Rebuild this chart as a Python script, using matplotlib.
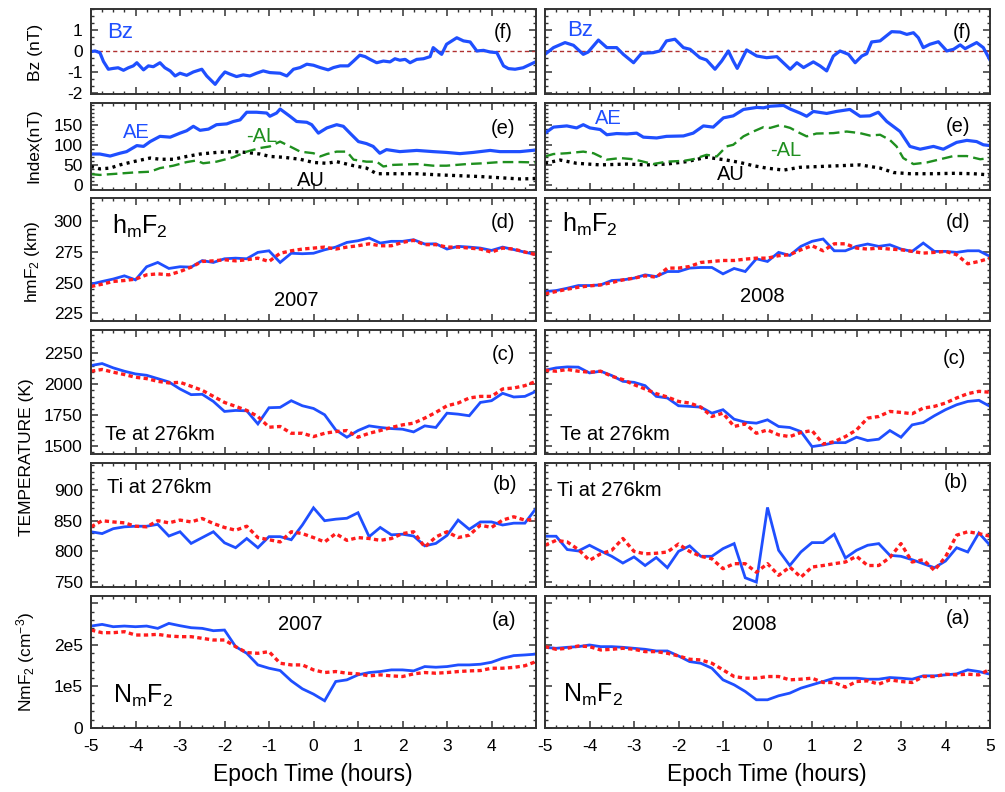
import numpy as np
import matplotlib
matplotlib.use('Agg')
import matplotlib.pyplot as plt
from matplotlib.ticker import MultipleLocator

plt.rcParams['font.family'] = ['Liberation Sans', 'DejaVu Sans']
plt.rcParams['mathtext.fontset'] = 'custom'
plt.rcParams['mathtext.rm'] = 'Liberation Sans'
plt.rcParams['mathtext.it'] = 'Liberation Sans:italic'
plt.rcParams['mathtext.bf'] = 'Liberation Sans:bold'

# ---- data -------------------------------------------------------------
# 15-min epoch grid for the ionospheric parameters
t = np.arange(-5, 5.001, 0.25)

hm07_obs = [248.8, 251, 253, 255.6, 252.3, 263, 266.5, 261.6, 263, 262.7, 268, 266.5, 269.5, 270,
            269.5, 274.7, 276, 266.5, 274, 273.6, 274, 276.8, 279, 282.8, 284.2, 286.4, 282.3, 283.7,
            283.7, 285, 281.5, 281.7, 277.4, 279.6, 279, 278.2, 276.3, 279, 277, 274.9, 272.8]
hm07_mod = [246.9, 248.8, 251, 251.8, 252.9, 256.4, 257.2, 256.4, 259.1, 262.7, 267.3, 267.8, 268.7,
            267.8, 268.7, 270, 267.3, 274, 276, 277.4, 278.2, 279, 277.4, 279, 280.1, 281.7, 280.1,
            280.1, 282.8, 284.5, 281, 281, 279, 279, 278.2, 277.4, 274.9, 278.2, 277.4, 275, 272.8]
hm08_obs = [242.8, 243.6, 245.5, 247.7, 247.7, 248.2, 251.8, 252.3, 253.7, 256.4, 255, 259.1, 259.1,
            261.9, 262.4, 262.4, 257.2, 261.6, 259.1, 269.5, 267.3, 274.7, 272.2, 279.6, 283.7, 285.6,
            276, 276, 279.6, 281.5, 279.6, 280.9, 277.4, 275.5, 282.3, 275.5, 275.5, 274.7, 276, 276, 271.4]
hm08_mod = [240.9, 242.8, 244.7, 246.3, 247.4, 248.2, 250.1, 252.3, 253.7, 255.6, 254.5, 261.9, 261.9,
            263.2, 266.5, 267.3, 268.1, 268.1, 269.2, 270, 270, 272, 272.8, 276.8, 280.1, 276, 281.7,
            281.7, 278.2, 277.4, 278.2, 277.4, 276.8, 275.5, 274.1, 274.7, 275.5, 272.8, 265.4, 267.3, 270]

te07_obs = [2152, 2168, 2133, 2106, 2084, 2073, 2046, 2019, 1962, 1916, 1919, 1861, 1780, 1788, 1785,
            1679, 1810, 1813, 1867, 1826, 1804, 1753, 1630, 1571, 1625, 1663, 1650, 1641, 1636, 1614,
            1663, 1650, 1766, 1758, 1745, 1853, 1867, 1927, 1897, 1902, 1943]
te07_mod = [2106, 2120, 2098, 2079, 2057, 2046, 2024, 2011, 2016, 1984, 1951, 1902, 1853, 1821, 1788,
            1739, 1652, 1658, 1603, 1603, 1576, 1603, 1617, 1625, 1571, 1603, 1625, 1650, 1671, 1685,
            1726, 1772, 1826, 1848, 1889, 1902, 1902, 1962, 1970, 1989, 2024]
te08_obs = [2114, 2133, 2141, 2139, 2092, 2106, 2071, 2024, 2016, 1989, 1902, 1889, 1826, 1821, 1815,
            1766, 1794, 1717, 1693, 1685, 1712, 1658, 1650, 1617, 1495, 1508, 1527, 1527, 1571, 1544,
            1555, 1625, 1571, 1671, 1690, 1745, 1794, 1834, 1861, 1870, 1821]
te08_mod = [2114, 2106, 2120, 2106, 2098, 2106, 2065, 2038, 1997, 1962, 1924, 1897, 1861, 1848, 1815,
            1739, 1766, 1658, 1679, 1603, 1630, 1590, 1576, 1609, 1625, 1516, 1535, 1576, 1630, 1726,
            1739, 1780, 1772, 1761, 1807, 1821, 1848, 1889, 1924, 1943, 1935]

ti07_obs = [832, 829, 837, 840, 841, 841, 844, 825, 832, 813, 822.5, 832, 814, 806, 821, 806, 824, 824,
            819, 843, 871, 850, 852.5, 854, 863, 824, 839, 827, 828, 825, 809, 813, 826, 851, 836, 848,
            848, 843, 846, 846, 870]
ti07_mod = [840, 850, 848, 846.5, 841, 840, 850, 846.5, 851, 848, 853.6, 845.4, 839, 834.5, 841, 822.5,
            819, 815.4, 832, 829, 822.5, 815.4, 829, 818, 822.5, 821, 818, 821, 829, 832, 807, 823.6, 832,
            822.5, 826.4, 842.7, 839, 851, 856.4, 851, 852]
ti08_obs = [824.7, 824.7, 803, 800.7, 810, 800.7, 792, 781, 791, 777, 790, 773.4, 800, 809, 792, 792,
            804.5, 812.7, 757, 750, 871.6, 801.8, 777, 799, 814.3, 814.3, 828, 789.3, 801.8, 810, 812.7,
            793.6, 792, 786.5, 780, 773.4, 784.3, 806, 799, 830, 810]
ti08_mod = [810, 818, 815.4, 803, 785.4, 796, 801.8, 821, 800, 796, 797, 799, 812, 800, 792, 788, 771.8,
            780, 780, 766, 780, 761, 774.5, 758, 774.5, 777, 780, 782.7, 792, 777, 777, 790, 812.7, 782.7,
            786.5, 769, 791, 826.4, 832, 829, 824.7]

# NmF2 in units of 1e5 cm^-3
nm07_obs = [2.456, 2.496, 2.44, 2.456, 2.44, 2.456, 2.40, 2.52, 2.464, 2.416, 2.40, 2.344, 2.36, 1.96,
            1.80, 1.52, 1.44, 1.384, 1.136, 0.944, 0.816, 0.656, 1.12, 1.16, 1.28, 1.336, 1.36, 1.40,
            1.40, 1.376, 1.48, 1.464, 1.48, 1.52, 1.52, 1.536, 1.584, 1.68, 1.744, 1.76, 1.78]
nm07_mod = [2.36, 2.296, 2.296, 2.32, 2.24, 2.24, 2.256, 2.216, 2.20, 2.20, 2.16, 2.12, 2.12, 1.96,
            1.816, 1.80, 1.84, 1.56, 1.52, 1.52, 1.40, 1.336, 1.36, 1.32, 1.304, 1.256, 1.28, 1.256,
            1.24, 1.304, 1.336, 1.32, 1.336, 1.36, 1.376, 1.384, 1.44, 1.44, 1.46, 1.5, 1.6]
nm08_obs = [1.944, 1.92, 1.944, 1.96, 2.0, 1.96, 1.96, 1.944, 1.92, 1.896, 1.856, 1.856, 1.736, 1.60,
            1.56, 1.44, 1.16, 1.04, 0.88, 0.68, 0.68, 0.776, 0.84, 0.96, 1.04, 1.12, 1.20, 1.20, 1.20,
            1.176, 1.176, 1.216, 1.20, 1.176, 1.256, 1.256, 1.28, 1.304, 1.40, 1.36, 1.296]
nm08_mod = [1.96, 1.896, 1.92, 1.976, 1.96, 1.88, 1.896, 1.92, 1.896, 1.84, 1.84, 1.80, 1.736, 1.656,
            1.64, 1.56, 1.40, 1.24, 1.20, 1.20, 1.24, 1.24, 1.16, 1.176, 1.20, 1.096, 1.096, 0.984, 1.12,
            1.136, 1.056, 1.16, 1.12, 1.096, 1.24, 1.24, 1.296, 1.28, 1.296, 1.28, 1.416]

# IMF Bz (nT)
bz07_t = [-5.0, -4.91, -4.80, -4.72, -4.61, -4.50, -4.39, -4.27, -4.16, -4.05, -3.97, -3.82, -3.71,
          -3.60, -3.45, -3.34, -3.22, -3.11, -3.0, -2.85, -2.70, -2.51, -2.40, -2.21, -2.10, -1.99,
          -1.88, -1.73, -1.58, -1.43, -1.28, -1.13, -0.98, -0.75, -0.60, -0.45, -0.30, -0.15, 0.0,
          0.15, 0.33, 0.45, 0.60, 0.78, 0.90, 1.04, 1.16, 1.27, 1.42, 1.57, 1.72, 1.83, 1.94, 2.06,
          2.17, 2.32, 2.47, 2.62, 2.69, 2.81, 2.88, 2.99, 3.22, 3.37, 3.52, 3.67, 3.82, 3.97, 4.12,
          4.27, 4.38, 4.53, 4.71, 4.99]
bz07 = [-0.03, 0, -0.08, -0.5, -0.87, -0.83, -0.8, -0.92, -0.8, -0.71, -0.56, -0.9, -0.71, -0.75,
        -0.56, -0.8, -0.95, -1.19, -1.06, -1.16, -1.0, -0.87, -1.19, -1.59, -1.27, -1.0, -1.1, -1.22,
        -1.14, -1.19, -1.06, -0.95, -1.03, -1.06, -1.19, -0.87, -0.79, -0.63, -0.68, -0.79, -0.9,
        -0.79, -0.71, -0.71, -0.48, -0.2, -0.27, -0.4, -0.56, -0.48, -0.52, -0.37, -0.44, -0.4, -0.56,
        -0.4, -0.37, -0.27, 0.16, -0.05, -0.16, 0.32, 0.63, 0.48, 0.43, 0.0, 0.03, -0.05, -0.08,
        -0.71, -0.84, -0.87, -0.8, -0.52]
bz08_t = [-5.0, -4.81, -4.55, -4.36, -4.14, -4.03, -3.80, -3.61, -3.39, -3.24, -3.01, -2.83, -2.57,
          -2.42, -2.27, -2.08, -1.89, -1.74, -1.52, -1.37, -1.18, -1.03, -0.88, -0.77, -0.68, -0.47,
          -0.24, -0.02, 0.21, 0.51, 0.66, 0.81, 1.03, 1.18, 1.33, 1.48, 1.63, 1.82, 1.97, 2.12, 2.23,
          2.34, 2.53, 2.79, 2.98, 3.13, 3.28, 3.39, 3.50, 3.65, 3.84, 4.03, 4.18, 4.33, 4.44, 4.70,
          4.85, 5.0]
bz08 = [-0.16, 0.16, 0.4, 0.27, -0.16, -0.05, 0.52, 0.16, 0.16, -0.16, -0.56, -0.11, -0.08, 0.0, 0.48,
        0.56, 0.16, 0.08, -0.32, -0.43, -0.87, -0.48, 0.0, -0.48, -0.83, 0.05, -0.24, -0.32, -0.27,
        -0.87, -0.56, -0.79, -0.52, -0.71, -0.95, -0.24, 0.0, -0.16, -0.56, -0.24, -0.13, 0.43, 0.48,
        0.92, 0.9, 0.79, 0.87, 0.63, 0.16, 0.32, 0.44, 0.0, 0.08, 0.29, 0.11, 0.4, 0.16, -0.43]

# auroral indices (nT)
ae07_t = [-5.0, -4.80, -4.57, -4.35, -4.20, -3.97, -3.82, -3.67, -3.45, -3.22, -3.0, -2.85, -2.70,
          -2.55, -2.36, -2.18, -1.95, -1.80, -1.65, -1.50, -1.28, -1.05, -0.98, -0.83, -0.75, -0.53,
          -0.38, -0.15, -0.04, 0.11, 0.30, 0.52, 0.67, 0.82, 1.01, 1.19, 1.34, 1.49, 1.64, 1.94, 2.32,
          2.69, 2.99, 3.29, 3.59, 3.97, 4.19, 4.42, 4.64, 5.0]
ae07 = [77, 77, 72, 79, 83, 98, 96, 108, 121, 119, 129, 135, 146, 136, 139, 150, 152, 158, 162, 181,
        181, 179, 171, 179, 189, 171, 158, 156, 150, 129, 142, 150, 146, 129, 108, 103, 96, 79, 88, 83,
        86, 83, 81, 78, 81, 86, 83, 83, 83, 87]
al07_t = [-5.0, -4.80, -4.42, -4.05, -3.67, -3.45, -3.15, -2.85, -2.63, -2.48, -2.18, -1.80, -1.50,
          -1.20, -0.98, -0.75, -0.53, -0.30, 0.0, 0.15, 0.30, 0.52, 0.75, 0.90, 1.19, 1.42, 1.57, 1.79,
          2.32, 2.69, 2.99, 3.44, 3.82, 4.19, 4.64, 5.0]
al07 = [27, 25, 28, 31, 33, 42, 48, 57, 61, 54, 58, 69, 83, 92, 96, 108, 96, 83, 79, 71, 77, 83, 83,
        63, 58, 58, 46, 50, 52, 48, 48, 52, 54, 57, 57, 56]
au07_t = [-5.0, -4.80, -4.57, -4.35, -4.05, -3.67, -3.45, -3.15, -2.85, -2.55, -2.18, -1.80, -1.50,
          -1.20, -0.98, -0.68, -0.30, 0.0, 0.30, 0.52, 0.75, 0.90, 1.19, 1.42, 1.79, 2.32, 2.84, 3.29,
          3.74, 4.19, 4.64, 5.0]
au07 = [46, 40, 42, 50, 58, 67, 64, 64, 71, 77, 81, 83, 81, 77, 71, 69, 64, 56, 54, 58, 52, 48, 42, 28,
        28, 28, 25, 23, 21, 18, 15, 16]

ae08_t = [-5.0, -4.81, -4.51, -4.29, -4.14, -3.99, -3.76, -3.61, -3.39, -3.16, -2.94, -2.79, -2.49,
          -2.27, -1.89, -1.67, -1.44, -1.22, -0.99, -0.77, -0.54, -0.24, -0.09, 0.06, 0.36, 0.51, 0.73,
          0.88, 1.03, 1.33, 1.55, 1.85, 2.08, 2.30, 2.49, 2.68, 2.98, 3.20, 3.43, 3.73, 3.95, 4.25,
          4.48, 4.70, 4.85, 5.0]
ae08 = [129, 144, 147, 142, 150, 142, 138, 125, 128, 127, 129, 119, 117, 121, 122, 129, 147, 144, 167,
        172, 188, 193, 192, 196, 198, 189, 179, 171, 183, 178, 183, 188, 171, 172, 181, 158, 133, 96,
        89, 96, 89, 106, 111, 108, 100, 98]
al08_t = [-5.0, -4.81, -4.51, -4.14, -3.91, -3.61, -3.31, -3.01, -2.79, -2.57, -2.27, -1.89, -1.67,
          -1.37, -1.14, -0.92, -0.77, -0.54, -0.32, -0.09, 0.06, 0.28, 0.51, 0.73, 0.88, 1.10, 1.48,
          1.78, 2.08, 2.30, 2.53, 2.75, 2.90, 3.05, 3.28, 3.58, 3.88, 4.18, 4.48, 4.78, 5.0]
al08 = [71, 77, 79, 83, 79, 63, 67, 64, 58, 52, 58, 60, 64, 75, 71, 96, 100, 121, 133, 144, 142, 149,
        142, 129, 121, 128, 129, 133, 129, 123, 125, 112, 96, 67, 52, 56, 64, 72, 72, 64, 67]
au08_t = [-5.0, -4.66, -4.29, -3.76, -3.16, -2.72, -2.27, -1.82, -1.37, -0.92, -0.62, -0.32, -0.02,
          0.36, 0.73, 1.18, 1.63, 2.08, 2.53, 2.83, 3.20, 3.73, 4.18, 4.63, 5.0]
au08 = [54, 62, 54, 50, 52, 50, 52, 58, 69, 62, 56, 48, 42, 37, 44, 46, 48, 50, 42, 31, 28, 28, 29,
        28, 25]

xticks = [-5, -4, -3, -2, -1, 0, 1, 2, 3, 4, 5]

# ---- styles -----------------------------------------------------------
BLUE = '#1f4fff'
RED = '#ff1c1c'
GREEN = '#1f8f1f'
obs_kw = dict(color=BLUE, lw=2.0, solid_joinstyle='miter')
mod_kw = dict(color=RED, lw=2.4, ls=(0, (1.3, 1.0)))

W, H = 1005, 792
fig = plt.figure(figsize=(W / 100, H / 100), dpi=100)

cols = [(91, 536), (545, 990)]
rows = [(9, 94), (103, 190), (198, 321), (330, 454), (463, 587), (596, 728)]

# ylim, ticks, tick labels, minor step for each row
yspec = [
    ((-2.05, 2.0), [-2, -1, 0, 1], ['-2', '-1', '0', '1'], 1 / 3),
    ((-12.5, 204), [0, 50, 100, 150], ['0', '50', '100', '150'], 10),
    ((218.8, 319), [225, 250, 275, 300], ['225', '250', '275', '300'], 5),
    ((1435, 2440), [1500, 1750, 2000, 2250], ['1500', '1750', '2000', '2250'], 50),
    ((742, 944), [750, 800, 850, 900], ['750', '800', '850', '900'], 10),
    ((0, 3.18), [0, 1, 2, 3], ['0', '1e5', '2e5', ''], 0.2),
]


def panel(c, r):
    x0, x1 = cols[c]
    y0, y1 = rows[r]
    ax = fig.add_axes([x0 / W, 1 - y1 / H, (x1 - x0) / W, (y1 - y0) / H])
    ylim, yt, ytl, ymin = yspec[r]
    ax.set_xlim(-5, 5)
    ax.set_ylim(*ylim)
    ax.set_xticks(xticks)
    ax.xaxis.set_minor_locator(MultipleLocator(0.25))
    ax.set_yticks(yt)
    ax.yaxis.set_minor_locator(MultipleLocator(ymin))
    ax.tick_params(which='both', direction='in', top=True, right=True,
                   color='#333333', labelsize=12.5)
    ax.tick_params(which='major', length=5, width=1.1)
    ax.tick_params(which='minor', length=2.5, width=1.0)
    ax.tick_params(axis='x', pad=8)
    ax.tick_params(axis='y', pad=6)
    for s in ax.spines.values():
        s.set_color('#333333')
        s.set_linewidth(1.4)
    if c == 0:
        ax.set_yticklabels(ytl)
    else:
        ax.set_yticklabels([])
    if r == 5:
        labs = [str(v) for v in xticks]
        if c == 0:
            labs[-1] = ''
        ax.set_xticklabels(labs)
    else:
        ax.set_xticklabels([])
    return ax


def ftext(x, y, s, **kw):
    fig.text(x / W, 1 - y / H, s, **kw)


bz = [(bz07_t, bz07), (bz08_t, bz08)]
ae = [(ae07_t, ae07), (ae08_t, ae08)]
al = [(al07_t, al07), (al08_t, al08)]
au = [(au07_t, au07), (au08_t, au08)]
hm = [(hm07_obs, hm07_mod), (hm08_obs, hm08_mod)]
te = [(te07_obs, te07_mod), (te08_obs, te08_mod)]
ti = [(ti07_obs, ti07_mod), (ti08_obs, ti08_mod)]
nm = [(nm07_obs, nm07_mod), (nm08_obs, nm08_mod)]

for c in range(2):
    ax = panel(c, 0)
    ax.axhline(0, color='#b03030', lw=1.0, ls=(0, (3, 2.2)))
    ax.plot(bz[c][0], bz[c][1], color=BLUE, lw=2.3)

    ax = panel(c, 1)
    ax.plot(au[c][0], au[c][1], color='black', lw=2.4, ls=(0, (0.9, 1.3)))
    ax.plot(al[c][0], al[c][1], color=GREEN, lw=1.7, ls=(0, (4.5, 2.2)))
    ax.plot(ae[c][0], ae[c][1], color=BLUE, lw=2.3)

    for r, pair in ((2, hm[c]), (3, te[c]), (4, ti[c]), (5, nm[c])):
        ax = panel(c, r)
        ax.plot(t, pair[0], **obs_kw)
        ax.plot(t, pair[1], **mod_kw)

# ---- annotations --------------------------------------------------------
fs = 14.5
ftext(107, 32, 'Bz', color=BLUE, fontsize=16, va='center')
ftext(567, 31, 'Bz', color=BLUE, fontsize=16, va='center')
for x, y, s in [(513, 33, '(f)'), (515, 128, '(e)'), (515, 223, '(d)'), (515, 354, '(c)'),
                (517, 484, '(b)'), (516, 621, '(a)'),
                (972, 33, '(f)'), (970, 126, '(e)'), (970, 222, '(d)'), (966, 359, '(c)'),
                (968, 483, '(b)'), (970, 619, '(a)')]:
    ftext(x, y, s, fontsize=fs, ha='right', va='center')

ftext(123, 133, 'AE', color=BLUE, fontsize=fs, va='center')
ftext(595, 118, 'AE', color=BLUE, fontsize=fs, va='center')
ftext(246, 137, '-AL', color=GREEN, fontsize=fs, va='center')
ftext(770, 150, '-AL', color=GREEN, fontsize=fs, va='center')
ftext(297, 180, 'AU', fontsize=fs, va='center')
ftext(717, 174, 'AU', fontsize=fs, va='center')

hmf2 = r'h$_\mathregular{m}$F$_\mathregular{2}$'
nmf2 = r'N$_\mathregular{m}$F$_\mathregular{2}$'
ftext(112, 234, hmf2, fontsize=18, va='baseline')
ftext(562, 232, hmf2, fontsize=18, va='baseline')
ftext(113, 703, nmf2, fontsize=18, va='baseline')
ftext(563, 702, nmf2, fontsize=18, va='baseline')

ftext(296, 301, '2007', fontsize=fs, ha='center', va='center')
ftext(762, 297, '2008', fontsize=fs, ha='center', va='center')
ftext(300, 624, '2007', fontsize=fs, ha='center', va='center')
ftext(754, 624, '2008', fontsize=fs, ha='center', va='center')

ftext(105, 435, 'Te at 276km', fontsize=fs, va='center')
ftext(560, 435, 'Te at 276km', fontsize=fs, va='center')
ftext(107, 487, 'Ti at 276km', fontsize=fs, va='center')
ftext(557, 490, 'Ti at 276km', fontsize=fs, va='center')

# axis titles
ylab = dict(fontsize=12.5, rotation=90, ha='center', va='center')
ftext(35, 52, 'Bz (nT)', **ylab)
ftext(34, 146, 'Index(nT)', **ylab)
ftext(32, 262, r'hmF$_2$ (km)', **ylab)
ftext(26, 457, 'TEMPERATURE (K)', **ylab)
ftext(26, 662, r'NmF$_2$ (cm$^{-3}$)', **ylab)

ftext(313, 775, 'Epoch Time (hours)', fontsize=16.5, ha='center', va='center')
ftext(767, 775, 'Epoch Time (hours)', fontsize=16.5, ha='center', va='center')

fig.savefig('out.png', dpi=100)
